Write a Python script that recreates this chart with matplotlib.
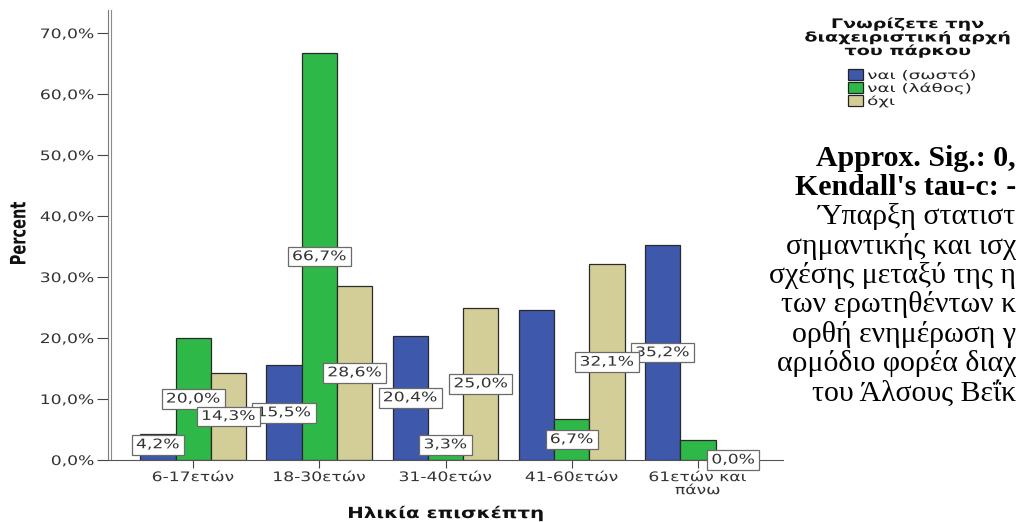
import matplotlib
matplotlib.use("Agg")
import matplotlib.pyplot as plt
import numpy as np
from matplotlib.patheffects import AbstractPathEffect, SimpleLineShadow, Normal
from matplotlib.transforms import Affine2D

# ---------------- data ----------------
categories = ["6-17ετών", "18-30ετών", "31-40ετών", "41-60ετών", "61ετών και\nπάνω"]
series_names = ["ναι (σωστό)", "ναι (λάθος)", "όχι"]
correct_yes = [4.2, 15.5, 20.4, 24.6, 35.2]
wrong_yes = [20.0, 66.7, 3.3, 6.7, 3.3]
no_answer = [14.3, 28.6, 25.0, 32.1, 0.0]
shown_correct = [True, True, True, False, True]
shown_wrong = [True, True, True, True, False]
shown_no = [True, True, True, True, True]
y_ticks = [0, 10, 20, 30, 40, 50, 60, 70]
legend_title = "Γνωρίζετε την\nδιαχειριστική αρχή\nτου πάρκου"
x_title = "Ηλικία επισκέπτη"
y_title = "Percent"
note_lines = ["Approx. Sig.: 0,", "Kendall's tau-c: -", "Ύπαρξη στατιστ",
              "σημαντικής και ισχ", "σχέσης μεταξύ της η", "των ερωτηθέντων κ",
              "ορθή ενημέρωση γ", "αρμόδιο φορέα διαχ", "του Άλσους Βεΐκ"]

series = [correct_yes, wrong_yes, no_answer]
shown = [shown_correct, shown_wrong, shown_no]
colors = ["#3E58AC", "#2EB848", "#D3CE97"]


def pct(v):
    return f"{v:.1f}%".replace(".", ",")


class Stretch(AbstractPathEffect):
    """Stretch glyph paths (SPSS-like wide text)."""
    def __init__(self, sx=1.0, sy=1.0, frac=0.5):
        super().__init__()
        self.sx, self.sy, self.frac = sx, sy, frac

    def draw_path(self, renderer, gc, tpath, affine, rgbFace=None):
        ext = tpath.get_extents()
        cx = ext.x0 + self.frac * (ext.x1 - ext.x0)
        pre = Affine2D().translate(-cx, 0).scale(self.sx, self.sy).translate(cx, 0)
        renderer.draw_path(gc, tpath, pre + affine, rgbFace)


SX = 1.3
FS = 9.5
W, H = 1016, 522
fig = plt.figure(figsize=(W / 100, H / 100), dpi=100)
ax = fig.add_axes([108 / W, 1 - 460 / H, (783 - 108) / W, (460 - 10) / H])

x = np.arange(len(categories))
bw = 0.28
containers = []
for j, (vals, col) in enumerate(zip(series, colors)):
    c = ax.bar(x + (j - 1) * bw, vals, bw, color=col, edgecolor="#2a2a2a",
               linewidth=0.9, zorder=2, label=series_names[j])
    containers.append(c)

for j, vals in enumerate(series):
    for i, v in enumerate(vals):
        if not shown[j][i]:
            continue
        yy = max(v / 2, 2.5) if v > 0 else 0
        ax.text(x[i] + (j - 1) * bw, yy, pct(v), ha="center", va="center",
                fontsize=FS, color="#333333", zorder=5, clip_on=False,
                bbox=dict(boxstyle="square,pad=0.25", fc="white", ec="#6a6a6a",
                          lw=0.9, path_effects=[Stretch(SX, 1, 0.5)]),
                path_effects=[Stretch(SX, 1, 0.5)])

ax.set_xlim(-0.675, 4.675)
ax.set_ylim(0, 73.8)
ax.set_yticks(y_ticks)
ax.set_yticklabels([pct(v) for v in y_ticks])
ax.set_xticks(x)
ax.set_xticklabels(categories, linespacing=1.0)
ax.tick_params(axis="y", length=8, width=0.8, color="#444444", pad=2,
               labelsize=FS, labelcolor="#333333")
ax.tick_params(axis="x", length=6, width=0.8, color="#444444", pad=2,
               labelsize=FS, labelcolor="#333333")

for s in ["top", "right"]:
    ax.spines[s].set_visible(False)
ax.spines["left"].set_color("#7a7a7a")
ax.spines["left"].set_linewidth(0.8)
ax.spines["left"].set_path_effects([SimpleLineShadow(offset=(2.2, 0), shadow_color="#8a8a8a", alpha=1.0), Normal()])
ax.spines["bottom"].set_color("#555555")
ax.spines["bottom"].set_linewidth(0.8)

ax.set_xlabel(x_title, fontsize=11, fontweight="bold", color="#111111",
              path_effects=[Stretch(SX, 1, 0.5)])
ax.xaxis.set_label_coords(0.5, -0.1)
ax.set_ylabel(y_title, fontsize=10.5, fontweight="bold", color="#111111",
              path_effects=[Stretch(1, 1.45, 0.5)])
ax.yaxis.set_label_coords(-0.118, 0.504)

# legend
fig.text(908 / W, 1 - 18 / H, legend_title, ha="center", va="top",
         multialignment="center", fontsize=9.5, fontweight="bold", color="#111111",
         linespacing=1.05, path_effects=[Stretch(1.45, 1, 0.5)])
leg = fig.legend(handles=containers, labels=series_names, loc="upper left",
                 bbox_to_anchor=(848 / W, 1 - 69 / H), bbox_transform=fig.transFigure,
                 frameon=False, fontsize=8.5, borderpad=0, borderaxespad=0,
                 labelspacing=0.0, handlelength=1.3, handleheight=1.05,
                 handletextpad=0.35)
for t in leg.get_texts():
    t.set_color("#222222")
    t.set_path_effects([Stretch(1.55, 1, 0.0)])
for p in leg.get_patches():
    p.set_edgecolor("#222222")

# right-side note
for k, line in enumerate(note_lines):
    yv = 158 + 29.4 * k
    fig.text(1.0, 1 - yv / H, line, ha="right", va="center",
             fontfamily="Liberation Serif", fontsize=21.5,
             fontweight="bold" if k < 2 else "normal", color="black")

fig.canvas.draw()
for t in ax.get_yticklabels():
    t.set_path_effects([Stretch(SX, 1, 1.0)])
for t in ax.get_xticklabels():
    t.set_path_effects([Stretch(SX, 1, 0.5)])

fig.savefig("out.png", dpi=100)
